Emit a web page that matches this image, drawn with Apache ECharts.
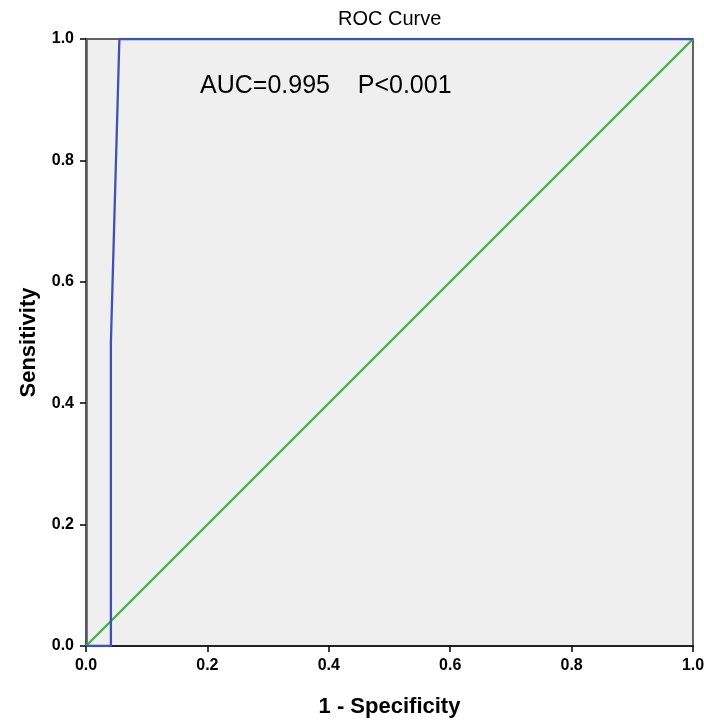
<!DOCTYPE html>
<html>
<head>
<meta charset="utf-8">
<title>ROC Curve</title>
<script src="https://cdn.jsdelivr.net/npm/echarts@6/dist/echarts.min.js"></script>
<style>
  html, body { margin: 0; padding: 0; background: #fff; }
  #main { width: 704px; height: 721px; }
</style>
</head>
<body>
<div id="main"></div>
<script>
// ROC curve points (1 - specificity, sensitivity)
var rocX = [0, 0.041, 0.041, 0.055, 1];
var rocY = [0, 0, 0.5, 1, 1];
// reference diagonal
var refX = [0, 1];
var refY = [0, 1];
var tickLabels = ['0.0', '0.2', '0.4', '0.6', '0.8', '1.0'];
var noteText = 'AUC=0.995    P<0.001';

function pairs(xs, ys) {
  var out = [];
  for (var i = 0; i < xs.length; i++) out.push([xs[i], ys[i]]);
  return out;
}

var chart = echarts.init(document.getElementById('main'));
var fam = 'Arial, "Liberation Sans"';
var axisText = { color: '#000', fontFamily: fam, fontWeight: 'bold', fontSize: 16 };
var nameText = { color: '#000', fontFamily: fam, fontWeight: 'bold', fontSize: 22 };

var option = {
  animation: false,
  title: {
    text: 'ROC Curve',
    left: 333, top: 4,
    textStyle: { fontFamily: fam, fontWeight: 'normal', fontSize: 20, color: '#000' }
  },
  grid: {
    left: 86, right: 11, top: 39, bottom: 75,
    outerBoundsMode: 'none',
    show: true, backgroundColor: '#efefef', borderColor: '#333', borderWidth: 1.5
  },
  xAxis: {
    type: 'value', min: 0, max: 1, interval: 0.2,
    name: '1 - Specificity', nameLocation: 'middle', nameGap: 50,
    nameTextStyle: nameText,
    axisLine: { show: true, lineStyle: { color: '#222', width: 2 } },
    axisTick: { show: true, length: 6, lineStyle: { color: '#000', width: 1.5 } },
    axisLabel: Object.assign({ margin: 12, formatter: function (v) { return tickLabels[Math.round(v * 5)]; } }, axisText),
    splitLine: { show: false }
  },
  yAxis: {
    type: 'value', min: 0, max: 1, interval: 0.2,
    name: 'Sensitivity', nameLocation: 'middle', nameGap: 46,
    nameTextStyle: nameText,
    axisLine: { show: true, lineStyle: { color: '#555', width: 2.5 } },
    axisTick: { show: true, length: 6, lineStyle: { color: '#000', width: 1.5 } },
    axisLabel: Object.assign({ margin: 12, formatter: function (v) { return tickLabels[Math.round(v * 5)]; } }, axisText),
    splitLine: { show: false }
  },
  series: [
    {
      type: 'line', data: pairs(refX, refY), symbol: 'none',
      lineStyle: { color: '#3cb44a', width: 2.3 }, z: 2
    },
    {
      type: 'line', data: pairs(rocX, rocY), symbol: 'none',
      lineStyle: { color: '#3f51b5', width: 2.3 }, z: 3
    }
  ],
  graphic: [{
    type: 'text', left: 200, top: 74,
    style: { text: noteText, fill: '#000', font: '25px Arial, "Liberation Sans"' }
  }]
};
chart.setOption(option);
</script>
</body>
</html>
